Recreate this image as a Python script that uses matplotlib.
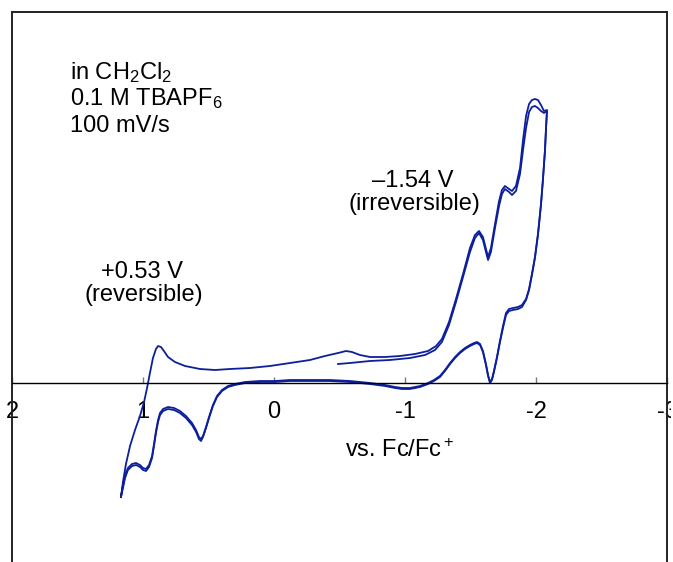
import matplotlib
matplotlib.use('Agg')
import matplotlib.pyplot as plt
from matplotlib.transforms import Bbox, TransformedBbox

plt.rcParams['font.family'] = ['Liberation Sans', 'DejaVu Sans']
plt.rcParams['mathtext.fontset'] = 'custom'
plt.rcParams['mathtext.rm'] = 'Liberation Sans'
plt.rcParams['mathtext.it'] = 'Liberation Sans:italic'
plt.rcParams['mathtext.bf'] = 'Liberation Sans:bold'
plt.rcParams['axes.unicode_minus'] = False

# ---------------- data (potential V vs Fc/Fc+, current arb. units) ----------------
# first sweep: start at -0.49 V, scan negative, return to +1.17 V
sweep1_v = [-0.489, -0.580, -0.733, -0.885, -1.038, -1.153, -1.229, -1.282, -1.336, -1.389,
            -1.443, -1.496, -1.534, -1.565, -1.595, -1.618, -1.634, -1.656, -1.687, -1.718,
            -1.740, -1.763, -1.794, -1.817, -1.847, -1.878, -1.901, -1.924, -1.947, -1.969,
            -1.992, -2.015, -2.038, -2.061, -2.084,
            -2.076, -2.069, -2.053, -2.038, -2.015, -1.992, -1.969, -1.947, -1.924, -1.893,
            -1.863, -1.824, -1.794, -1.771, -1.748, -1.725, -1.702, -1.679, -1.664, -1.649,
            -1.634, -1.618, -1.595, -1.573, -1.550, -1.527, -1.496, -1.458, -1.420, -1.382,
            -1.344, -1.305, -1.267, -1.221, -1.176, -1.115, -1.038, -0.977, -0.924, -0.847,
            -0.733, -0.580, -0.427, -0.275, -0.122, -0.008, 0.107, 0.221, 0.298, 0.351,
            0.397, 0.435, 0.466, 0.496, 0.519, 0.542, 0.557, 0.573, 0.595, 0.626,
            0.672, 0.718, 0.763, 0.809, 0.847, 0.870, 0.885, 0.901, 0.916, 0.931,
            0.954, 0.977, 1.000, 1.023, 1.053, 1.084, 1.115, 1.137, 1.153, 1.168]
sweep1_i = [1.9, 2.0, 2.2, 2.3, 2.5, 2.8, 3.3, 4.1, 5.8, 8.1,
            10.6, 13.1, 14.5, 15.0, 14.3, 13.1, 12.3, 13.1, 15.5, 17.7,
            18.9, 19.4, 19.1, 18.8, 19.2, 20.9, 23.3, 25.5, 27.1, 27.6,
            27.7, 27.5, 27.2, 27.0, 27.2,
            25.3, 23.3, 20.3, 17.8, 14.8, 12.5, 10.8, 9.3, 8.3, 7.6,
            7.4, 7.3, 7.2, 6.8, 5.5, 4.1, 2.5, 1.1, 0.3, 0.0,
            0.7, 1.8, 3.1, 3.8, 4.0, 3.9, 3.7, 3.4, 3.0, 2.5,
            1.9, 1.2, 0.6, 0.2, -0.1, -0.4, -0.6, -0.6, -0.5, -0.3,
            -0.1, 0.1, 0.2, 0.2, 0.2, 0.1, 0.1, 0.0, -0.2, -0.4,
            -0.8, -1.4, -2.3, -3.5, -4.5, -5.4, -5.8, -5.6, -4.9, -4.2,
            -3.5, -3.0, -2.7, -2.6, -2.8, -3.2, -3.9, -5.0, -6.3, -7.5,
            -8.4, -8.8, -8.7, -8.4, -8.2, -8.3, -8.7, -9.5, -10.5, -11.4]

# second sweep: from +1.17 V back to -2.08 V and return to +1.17 V
sweep2_v = [1.168, 1.153, 1.130, 1.099, 1.061, 1.023, 0.992, 0.969, 0.947, 0.924,
            0.901, 0.885, 0.863, 0.840, 0.809, 0.756, 0.679, 0.565, 0.450, 0.336,
            0.183, 0.031, -0.122, -0.275, -0.389, -0.489, -0.550, -0.595, -0.656, -0.733,
            -0.847, -0.962, -1.076, -1.176, -1.237, -1.282, -1.336, -1.389, -1.443, -1.496,
            -1.534, -1.565, -1.595, -1.618, -1.634, -1.656, -1.687, -1.718, -1.740, -1.763,
            -1.794, -1.817, -1.847, -1.878, -1.901, -1.924, -1.947, -1.969, -1.992, -2.015,
            -2.038, -2.061, -2.084,
            -2.076, -2.069, -2.053, -2.038, -2.015, -1.992, -1.969, -1.947, -1.924, -1.893,
            -1.863, -1.824, -1.794, -1.771, -1.748, -1.725, -1.702, -1.679, -1.664, -1.649,
            -1.634, -1.618, -1.595, -1.573, -1.550, -1.527, -1.496, -1.458, -1.420, -1.382,
            -1.344, -1.305, -1.267, -1.221, -1.176, -1.115, -1.038, -0.977, -0.924, -0.847,
            -0.733, -0.580, -0.427, -0.275, -0.122, -0.008, 0.107, 0.221, 0.298, 0.351,
            0.397, 0.435, 0.466, 0.496, 0.519, 0.542, 0.557, 0.573, 0.595, 0.626,
            0.672, 0.718, 0.763, 0.809, 0.847, 0.870, 0.885, 0.901, 0.916, 0.931,
            0.954, 0.977, 1.000, 1.023, 1.053, 1.084, 1.115, 1.137, 1.153, 1.166]
sweep2_i = [-11.4, -9.9, -8.1, -6.3, -4.7, -3.3, -1.9, -0.5, 1.0, 2.5,
            3.4, 3.7, 3.6, 3.2, 2.6, 2.1, 1.7, 1.4, 1.3, 1.4,
            1.5, 1.7, 2.0, 2.3, 2.7, 3.0, 3.2, 3.1, 2.8, 2.6,
            2.6, 2.7, 2.9, 3.2, 3.7, 4.4, 6.1, 8.4, 10.9, 13.5,
            14.8, 15.2, 14.6, 13.4, 12.6, 13.5, 15.9, 18.2, 19.3, 19.7,
            19.4, 19.2, 19.7, 21.5, 24.3, 26.7, 27.9, 28.3, 28.4, 28.3,
            27.8, 27.2, 27.3,
            25.4, 23.4, 20.4, 17.9, 14.9, 12.6, 10.9, 9.4, 8.4, 7.8,
            7.6, 7.5, 7.4, 7.0, 5.7, 4.2, 2.6, 1.2, 0.4, 0.1,
            0.8, 1.9, 3.2, 3.9, 4.1, 4.0, 3.8, 3.5, 3.1, 2.6,
            2.0, 1.3, 0.7, 0.3, 0.0, -0.3, -0.5, -0.5, -0.4, -0.2,
            0.0, 0.2, 0.3, 0.3, 0.3, 0.2, 0.2, 0.1, -0.1, -0.3,
            -0.7, -1.3, -2.2, -3.4, -4.4, -5.3, -5.6, -5.4, -4.7, -4.0,
            -3.3, -2.8, -2.5, -2.4, -2.6, -3.0, -3.7, -4.8, -6.1, -7.3,
            -8.2, -8.6, -8.5, -8.2, -8.0, -8.1, -8.5, -9.3, -10.3, -11.2]

tick_values = [2, 1, 0, -1, -2, -3]
tick_labels = ['2', '1', '0', '-1', '-2', '-3']

W, H = 673, 562
fig = plt.figure(figsize=(W / 100, H / 100), dpi=100)
ax = fig.add_axes([12 / W, (H - 600) / H, 655 / W, 588 / H])

line_color = '#0c1f9c'
ax.plot(sweep1_v, sweep1_i, color=line_color, lw=1.3, solid_joinstyle='round')
ax.plot(sweep2_v, sweep2_i, color=line_color, lw=1.3, solid_joinstyle='round')

ax.set_xlim(2, -3)
ax.set_ylim(-21.7, 37.1)

for s in ['left', 'right', 'top']:
    ax.spines[s].set_color('#222222')
    ax.spines[s].set_linewidth(1.4)
ax.spines['bottom'].set_position(('data', 0))
ax.spines['bottom'].set_color('black')
ax.spines['bottom'].set_linewidth(1.0)

ax.set_yticks([])
ax.set_xticks(tick_values)
ax.set_xticklabels(tick_labels)
ax.tick_params(axis='x', direction='in', length=4, width=1, color='#777777',
               labelsize=17, pad=13)

clip = TransformedBbox(Bbox([[0, 0], [671 / W, 1]]), fig.transFigure)
for t in ax.xaxis.get_major_ticks():
    t.label1.set_clip_on(True)
    t.label1.set_clip_box(clip)


def ftext(x, y, s, **kw):
    fig.text(x / W, 1 - y / H, s, fontsize=17, va='baseline', **kw)


ftext(70, 79, 'in CH$_2$Cl$_2$', ha='left')
ftext(70, 105, '0.1 M TBAPF$_6$', ha='left')
ftext(70, 132, '100 mV/s', ha='left')
ftext(142, 278, '+0.53 V', ha='center')
ftext(144, 301, '(reversible)', ha='center')
ftext(413, 187, '\u20131.54 V', ha='center')
ftext(414, 210, '(irreversible)', ha='center')
ftext(400, 457, 'vs. Fc/Fc$^+$', ha='center')

fig.savefig('out.png', dpi=100)
